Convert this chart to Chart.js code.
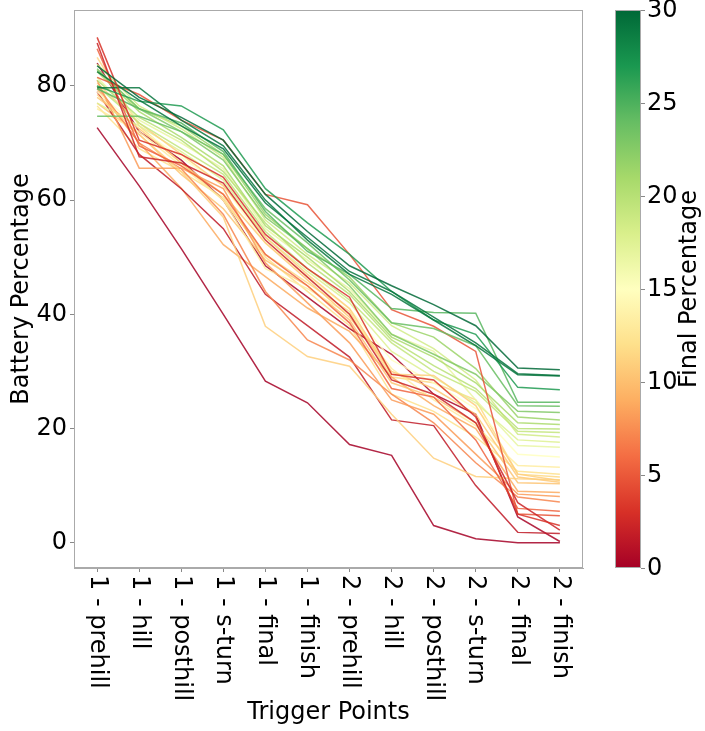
<!DOCTYPE html>
<html>
<head>
<meta charset="utf-8">
<script src="https://cdn.jsdelivr.net/npm/chart.js@4.4.1/dist/chart.umd.min.js"></script>
<style>
  html, body { margin: 0; padding: 0; background: #fff; }
</style>
</head>
<body>
<canvas id="battChart" width="705" height="731"></canvas>
<script>
// trigger points along the two laps
var categories = ['1 - prehill', '1 - hill', '1 - posthill', '1 - s-turn', '1 - final', '1 - finish',
                  '2 - prehill', '2 - hill', '2 - posthill', '2 - s-turn', '2 - final', '2 - finish'];
var yTicks = [0, 20, 40, 60, 80];
var cbarTicks = [0, 5, 10, 15, 20, 25, 30];

// battery % of each run at every trigger point (last value = final percentage)
var runs = [
  [83.5, 78.0, 74.5, 70.5, 61.0, 54.5, 48.5, 45.0, 41.7, 38.0, 30.6, 30.3],
  [88.5, 70.5, 68.0, 64.0, 54.0, 48.0, 43.0, 29.5, 28.5, 22.0, 5.0, 3.0],
  [82.5, 77.5, 73.0, 69.0, 59.5, 53.5, 47.5, 44.0, 39.5, 35.0, 29.6, 29.3],
  [72.7, 62.5, 51.5, 40.0, 28.3, 24.5, 17.2, 15.3, 3.0, 0.7, 0.0, 0.0],
  [79.7, 79.7, 74.0, 69.5, 60.0, 53.0, 47.0, 43.5, 39.0, 34.5, 29.4, 29.2],
  [80.0, 77.3, 76.5, 72.3, 62.0, 56.0, 50.5, 44.0, 39.0, 36.5, 27.2, 26.8],
  [87.5, 67.6, 66.5, 63.0, 53.0, 46.5, 40.0, 28.5, 26.0, 21.0, 7.0, 2.2],
  [79.5, 76.0, 73.5, 68.5, 58.0, 51.0, 47.0, 41.0, 40.3, 40.2, 24.6, 24.6],
  [74.7, 74.7, 72.0, 68.0, 58.5, 52.5, 46.0, 38.5, 37.5, 34.5, 24.0, 23.9],
  [81.5, 78.5, 74.0, 70.5, 61.0, 59.2, 50.5, 40.8, 37.9, 33.5, 5.0, 4.7],
  [83.0, 76.0, 72.0, 67.0, 57.0, 51.5, 45.0, 36.5, 33.0, 29.5, 23.0, 22.8],
  [86.5, 69.5, 66.0, 61.0, 50.5, 45.0, 38.5, 27.0, 25.5, 18.0, 6.0, 5.5],
  [82.5, 75.5, 71.0, 66.0, 55.5, 50.0, 44.0, 36.0, 32.5, 28.0, 21.0, 20.7],
  [78.5, 71.5, 65.0, 57.0, 37.9, 32.6, 30.9, 22.5, 14.8, 11.6, 11.2, 11.0],
  [81.0, 74.5, 70.5, 65.0, 56.0, 49.0, 43.5, 35.5, 31.0, 27.0, 20.0, 19.9],
  [81.0, 65.6, 65.6, 62.0, 49.0, 42.0, 35.0, 25.0, 22.5, 15.5, 8.5, 8.1],
  [80.0, 73.5, 69.0, 64.5, 54.5, 48.0, 42.5, 35.0, 30.0, 26.5, 19.5, 19.3],
  [80.5, 73.5, 68.0, 62.5, 53.5, 47.0, 41.0, 29.5, 29.3, 24.0, 12.0, 10.9],
  [77.0, 73.0, 68.5, 63.5, 53.5, 47.5, 42.0, 33.5, 29.0, 24.5, 18.0, 17.6],
  [80.0, 70.0, 65.5, 57.5, 44.0, 35.5, 32.0, 26.0, 21.0, 14.0, 8.0, 7.1],
  [81.5, 74.0, 70.0, 65.5, 55.0, 49.5, 44.5, 36.5, 33.5, 25.0, 17.0, 16.7],
  [78.0, 72.5, 66.5, 61.0, 52.5, 46.0, 39.5, 30.0, 27.0, 22.5, 11.5, 10.6],
  [79.0, 72.5, 67.5, 62.5, 52.5, 46.5, 41.0, 32.0, 28.0, 23.5, 15.5, 15.0],
  [79.0, 68.0, 62.0, 55.0, 43.5, 38.0, 32.5, 21.5, 20.5, 10.0, 1.8, 1.6],
  [76.0, 72.0, 66.0, 60.0, 48.0, 44.5, 40.0, 30.5, 25.0, 20.5, 13.5, 13.2],
  [83.8, 76.5, 72.5, 67.5, 56.5, 50.5, 45.5, 38.0, 34.0, 28.5, 19.0, 18.5],
  [77.0, 71.5, 64.5, 58.5, 49.5, 45.0, 39.0, 28.0, 25.5, 21.0, 10.5, 10.3],
  [82.8, 76.0, 73.0, 68.0, 57.5, 51.5, 46.5, 38.5, 36.0, 30.5, 22.0, 21.5],
  [79.5, 70.0, 62.1, 52.2, 46.6, 41.1, 37.0, 29.0, 24.0, 20.0, 9.0, 8.8],
  [85.0, 73.0, 66.5, 60.0, 50.5, 45.5, 40.5, 29.0, 28.0, 25.0, 12.0, 11.5],
  [84.0, 72.0, 67.0, 60.0, 48.5, 43.0, 37.5, 33.0, 26.0, 22.5, 4.5, 0.2],
  [76.5, 69.0, 65.0, 60.5, 50.0, 44.0, 38.0, 26.0, 23.0, 18.5, 12.5, 12.0]
];

var cbarMin = 0, cbarMax = 30;

// RdYlGn colour map
var rdylgn = ['#a50026', '#d73027', '#f46d43', '#fdae61', '#fee08b', '#ffffbf',
              '#d9ef8b', '#a6d96a', '#66bd63', '#1a9850', '#006837'];

function hexRgb(h) {
  return [parseInt(h.substr(1, 2), 16), parseInt(h.substr(3, 2), 16), parseInt(h.substr(5, 2), 16)];
}

function cmap(t, alpha) {
  t = Math.max(0, Math.min(1, t));
  var p = t * (rdylgn.length - 1);
  var i = Math.min(Math.floor(p), rdylgn.length - 2);
  var f = p - i;
  var a = hexRgb(rdylgn[i]), b = hexRgb(rdylgn[i + 1]);
  var c = a.map(function (v, k) { return Math.round(v + (b[k] - v) * f); });
  return 'rgba(' + c[0] + ',' + c[1] + ',' + c[2] + ',' + alpha + ')';
}

var datasets = runs.map(function (r) {
  var fin = r[r.length - 1];
  return {
    data: r.map(function (v, i) { return { x: i, y: v }; }),
    borderColor: cmap((fin - cbarMin) / (cbarMax - cbarMin), 0.85),
    borderWidth: 1.5,
    pointRadius: 0,
    tension: 0,
    fill: false
  };
});

var spine = '#aaaaaa';
var fontPx = 24;

// no extra room above/below for tick labels
function noPad(s) { s.paddingTop = 0; s.paddingBottom = 0; }

// frame, rotated x labels and the colour bar
var extras = {
  id: 'extras',
  afterDraw: function (chart) {
    var ctx = chart.ctx;
    var a = chart.chartArea;
    var xs = chart.scales.x;
    var cb = chart.scales.cbar;

    ctx.save();
    ctx.strokeStyle = spine;
    ctx.lineWidth = 1;
    ctx.strokeRect(a.left + 0.5, a.top + 0.5, a.right - a.left - 1, a.bottom - a.top - 1);

    // category labels, reading downwards
    ctx.fillStyle = '#000';
    ctx.font = fontPx + 'px "DejaVu Sans"';
    ctx.textAlign = 'left';
    ctx.textBaseline = 'middle';
    categories.forEach(function (lab, i) {
      var px = xs.getPixelForValue(i);
      ctx.save();
      ctx.translate(px, a.bottom + 7);
      ctx.rotate(Math.PI / 2);
      ctx.fillText(lab, 0, 0);
      ctx.restore();
    });

    // colour bar
    var x0 = a.right + 32, w = 26;
    var top = cb.getPixelForValue(cbarMax), bot = cb.getPixelForValue(cbarMin);
    var g = ctx.createLinearGradient(0, bot, 0, top);
    rdylgn.forEach(function (c, i) { g.addColorStop(i / (rdylgn.length - 1), c); });
    ctx.fillStyle = g;
    ctx.fillRect(x0, top, w, bot - top);
    ctx.strokeStyle = spine;
    ctx.strokeRect(x0 + 0.5, top + 0.5, w - 1, bot - top - 1);
    ctx.strokeStyle = '#888';
    ctx.fillStyle = '#000';
    cbarTicks.forEach(function (v) {
      var py = Math.round(cb.getPixelForValue(v)) + 0.5;
      ctx.beginPath();
      ctx.moveTo(x0 + w, py);
      ctx.lineTo(x0 + w + 4, py);
      ctx.stroke();
      ctx.fillText(String(v), x0 + w + 6, py);
    });

    // colour bar title
    ctx.textAlign = 'center';
    ctx.translate(690, (a.top + a.bottom) / 2);
    ctx.rotate(-Math.PI / 2);
    ctx.fillText('Final Percentage', 0, 0);
    ctx.restore();
  }
};

Chart.defaults.font.family = '"DejaVu Sans", sans-serif';
Chart.defaults.font.size = fontPx;
Chart.defaults.color = '#000';

var ctx = document.getElementById('battChart').getContext('2d');
var battChart = new Chart(ctx, {
  type: 'line',
  data: { datasets: datasets },
  options: {
    responsive: false,
    animation: false,
    layout: { padding: { top: 10, left: 0, right: 0, bottom: 0 } },
    plugins: { legend: { display: false }, tooltip: { enabled: false } },
    scales: {
      x: {
        type: 'linear',
        min: -0.55,
        max: 11.55,
        afterBuildTicks: function (s) { s.ticks = categories.map(function (c, i) { return { value: i }; }); },
        afterFit: function (s) { s.height = 163; s.paddingLeft = 0; s.paddingRight = 0; },
        grid: { drawOnChartArea: false, tickLength: 4, tickColor: '#888' },
        border: { color: spine },
        ticks: { display: false },
        title: { display: true, text: 'Trigger Points', padding: { top: 0, bottom: 4 } }
      },
      y: {
        min: -4.44,
        max: 93.3,
        afterBuildTicks: function (s) { s.ticks = yTicks.map(function (v) { return { value: v }; }); },
        afterFit: function (s) { s.width = 74; noPad(s); },
        grid: { drawOnChartArea: false, tickLength: 4, tickColor: '#888' },
        border: { color: spine },
        ticks: { padding: 3 },
        title: { display: true, text: 'Battery Percentage', padding: { top: 7, bottom: 0 } }
      },
      cbar: {
        type: 'linear',
        position: 'right',
        min: cbarMin,
        max: cbarMax,
        afterBuildTicks: function (s) { s.ticks = cbarTicks.map(function (v) { return { value: v }; }); },
        afterFit: function (s) { s.width = 122; noPad(s); },
        grid: { display: false, drawTicks: false },
        border: { display: false },
        ticks: { display: false }
      }
    }
  },
  plugins: [extras]
});
</script>
</body>
</html>
